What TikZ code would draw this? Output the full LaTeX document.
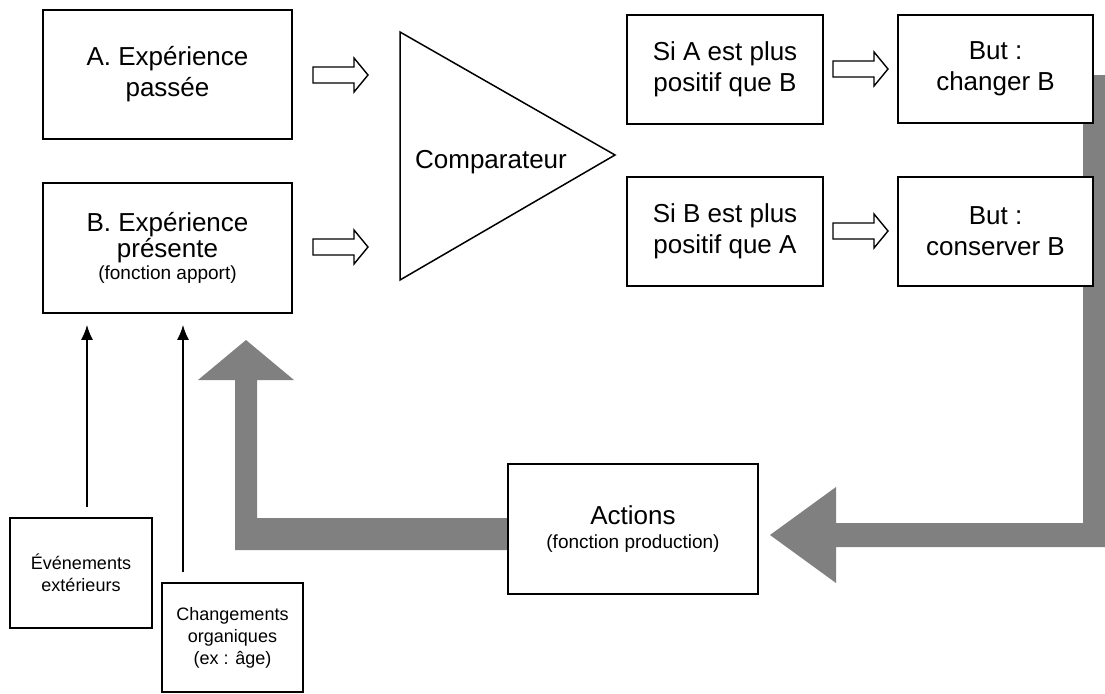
\documentclass[tikz,border=0pt]{standalone}
\usepackage{fontspec}
\setmainfont{Liberation Sans}
\usetikzlibrary{arrows.meta}
\definecolor{grisfleche}{RGB}{128,128,128}
\newcommand{\grand}{\fontsize{26}{31}\selectfont}
\newcommand{\petit}{\fontsize{19}{22}\selectfont}
\newcommand{\mini}{\fontsize{18}{22}\selectfont}

\begin{document}
\begin{tikzpicture}[x=1pt,y=-1pt,
        boite/.style={draw,line width=1.8pt,fill=white,align=center,inner sep=0pt,font=\grand},
        lien/.style={line width=1.5pt,-{Latex[length=15pt,width=12pt]},shorten <=10pt,shorten >=11pt}]
    \useasboundingbox (0,0) rectangle (1105,693);

    % Retour (gris)
    \fill[grisfleche] (1083,75) -- (1105,75) -- (1105,547) -- (836,547) -- (836,583) -- (770,535) -- (836,487) -- (836,523) -- (1083,523) -- cycle;
    \fill[grisfleche] (520,518) -- (520,550) -- (235,550) -- (235,380) -- (198,380) -- (246,340) -- (294,380) -- (257,380) -- (257,518) -- cycle;

    % Expériences
    \node[boite,minimum width=249,minimum height=129] (expA) at (167.5,74.5) {A. Expérience\\passée};
    \node[boite,minimum width=249,minimum height=130] (expB) at (167.5,248) {B. Expérience\\[-5pt]présente\\[-9pt]{\petit (fonction apport)}};

    % Comparateur
    \draw[line width=1.5pt] (400,32) -- (615,155) -- (400,280) -- cycle;
    \node[font=\grand] (comp) at (491,162) {Comparateur};

    % Cas et buts
    \node[boite,minimum width=196,minimum height=109] (siA) at (725,69.5) {Si A est plus\\positif que B};
    \node[boite,minimum width=196,minimum height=109] (siB) at (725,231.5) {Si B est plus\\positif que A};
    \node[boite,minimum width=195,minimum height=108] (butA) at (995.5,69) {But :\\changer B};
    \node[boite,minimum width=195,minimum height=109] (butB) at (995.5,231.5) {But :\\conserver B};

    % Flèches creuses
    \foreach \x/\y in {313/75, 313/247, 833/69, 833/231} {
        \draw[line width=1.4pt,fill=white] (\x,\y-8) -- ++(41,0) -- ++(0,-9) -- ++(14,17) -- ++(-14,17) -- ++(0,-9) -- ++(-41,0) -- cycle;
    }

    % Actions
    \node[boite,minimum width=250,minimum height=130] (act) at (633,529) {Actions\\[-7pt]{\petit (fonction production)}};

    % Influences sur B
    \node[boite,minimum width=142,minimum height=110,font=\mini] (evt) at (81,573) {Événements\\extérieurs};
    \node[boite,minimum width=141,minimum height=109,font=\mini] (chg) at (232.5,637.5) {Changements\\organiques\\(ex : âge)};
    \coordinate (e1) at ([xshift=6pt]evt.north);
    \coordinate (e2) at ([xshift=-49.5pt]chg.north);
    \draw[lien] (e1) -- (e1 |- expB.south);
    \draw[lien] (e2) -- (e2 |- expB.south);
\end{tikzpicture}
\end{document}
